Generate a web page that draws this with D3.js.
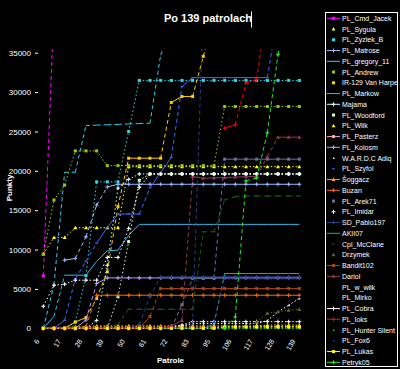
<!DOCTYPE html>
<html><head><meta charset="utf-8">
<script src="https://cdn.jsdelivr.net/npm/d3@7"></script>
<style>html,body{margin:0;padding:0;background:#000;}svg{display:block;}</style>
</head><body>
<svg id="c" width="400" height="369"></svg>
<script>
// ---- data ----
const categories = [6, 11, 17, 22, 28, 33, 39, 44, 50, 56, 61, 67, 72, 78, 83, 89, 95, 100, 106, 111, 117, 122, 128, 133, 139];
const yTickValues = [0, 5000, 10000, 15000, 20000, 25000, 30000, 35000];
const seriesNames = ["PL_Cmd_Jacek","PL_Sygula","PL_Zyzlek_B","PL_Matrose","PL_gregory_11","PL_Andrew","IR-129 Van Harpe","PL_Markow","Majama","PL_Woodford","PL_Wilk","PL_Pasterz","PL_Kolosm","W.A.R.D.C Adiq","PL_Szyfol","Šoggacz","Buzan","PL_Arek71","PL_Imidar","SD_Pablo197","AKII07","Cpl_McClane","Drzymek","Bandit102","Dariol","PL_w_wilk","PL_Mirko","PL_Cobra","PL_Ioks","PL_Hunter Silent","PL_Fox6","PL_Lukas","Petryk05"];
const N = null;
const cmdJacek = [6660,40700,N,N,N,N,N,N,N,N,N,N,N,N,N,N,N,N,N,N,N,N,N,N,N];
const sygula = [9420,11540,11540,12770,12770,12770,12770,12770,20530,20530,20530,20530,20530,20530,20530,20530,20530,20530,20530,20530,20530,20530,20530,20530,20530];
const zyzlek = [0,0,0,800,6700,18600,18600,18600,25000,31480,31480,31480,31480,31480,31480,31480,31480,31480,31480,31480,31480,31480,31480,31480,31480];
const matrose = [N,N,8660,8870,11620,15650,17950,18290,18290,18290,18290,18290,18290,18290,18290,18290,18290,18290,18290,18290,18290,18290,18290,18290,18290];
const gregory = [0,5500,19820,19820,25750,25800,25850,25900,25950,26000,26050,34700,38000,N,N,N,N,N,N,N,N,N,N,N,N];
const andrew = [9420,16290,18190,22530,22530,22530,20660,20660,20660,20660,20660,20660,20660,20660,20660,20660,20660,28170,28170,28170,28170,28170,28170,28170,28170];
const vanHarpe = [0,0,0,800,1360,3780,7170,15440,21600,21600,21600,21600,28680,29440,29440,34540,39000,N,N,N,N,N,N,N,N];
const markow = [0,1500,6750,6750,6750,8500,9840,9930,11800,13200,13200,13200,13200,13200,13200,13200,13200,13200,13200,13200,13200,13200,13200,13200,13200];
const majama = [0,0,0,0,0,1000,8000,17800,18900,19600,19600,19600,19600,19600,19600,19600,19600,19600,19600,19600,19600,19600,19600,19600,19600];
const woodford = [0,0,0,0,0,0,0,4000,11000,18800,19600,19600,19600,19600,19600,19600,19600,19600,19600,19600,19600,19600,19600,19600,19600];
const wilk = [0,0,100,200,200,300,300,300,300,300,300,300,300,300,300,300,300,300,300,300,300,400,400,400,400];
const pasterz = [0,0,0,0,0,0,0,0,0,0,0,0,100,100,100,100,100,100,200,200,200,200,200,200,200];
const kolosm = [0,0,0,0,1050,5680,6400,6400,6400,6400,6400,6400,6400,6400,6400,6400,6400,6400,6400,6400,6400,6400,6400,6400,6400];
const wardc = [0,0,0,0,0,0,0,0,0,0,0,0,0,300,600,600,600,600,600,600,600,1000,2080,2930,3780];
const szyfol = [0,0,1020,6300,8500,10820,12800,14510,14510,14510,17820,19800,21700,30700,31830,31830,31830,31830,31830,31830,31830,31830,40000,N,N];
const soggacz = [0,0,0,0,200,200,200,200,200,200,200,200,200,200,200,200,200,200,200,200,200,200,200,200,200];
const buzan = [0,0,0,0,200,4200,4200,4200,4200,4200,4200,4200,4200,4200,4200,4200,4200,4200,4200,4200,4200,4200,4200,4200,4200];
const arek71 = [0,0,0,0,0,0,0,0,0,0,0,0,0,3000,6330,6330,6330,21480,21480,21480,21480,21480,21480,21480,21480];
const imidar = [0,0,0,0,0,0,0,0,0,0,0,0,200,400,840,840,840,840,840,840,840,840,840,840,840];
const sdPablo = [0,0,0,0,0,0,0,0,0,500,4000,6530,6530,6530,6530,6530,6530,6530,6530,6530,6530,6530,6530,6530,6530];
const akii07 = [0,0,0,0,0,0,0,0,0,0,0,0,0,0,0,0,500,6960,6960,6960,6960,6960,6960,6960,6960];
const cplMcClane = [0,0,0,0,0,0,0,500,2420,2420,2420,2420,2420,2420,2420,12260,12260,16300,16700,16800,16800,16800,16800,16800,16800];
const drzymek = [0,0,0,0,0,0,0,0,0,0,0,0,0,0,0,0,0,0,0,300,800,1900,2100,2300,2400];
const bandit = [0,0,0,0,0,0,0,0,0,0,1500,5050,5050,5050,5050,5050,5050,5050,5050,5050,5050,5050,5050,5050,5050];
const dariol = [0,0,0,0,0,0,0,0,0,0,0,0,300,1000,19270,19060,19100,19150,19200,19250,19270,21800,24270,24270,24270];
const wWilk = [0,0,0,0,0,0,0,0,0,0,0,0,0,0,0,0,0,0,0,0,0,0,0,0,0];
const mirko = [0,0,0,0,0,0,0,0,0,0,0,0,0,0,500,41000,N,N,N,N,N,N,N,N,N];
const cobra = [2800,5470,5600,6110,6110,6110,9000,9000,12690,17900,19600,19600,19600,19600,19600,19600,19600,19600,19600,19600,19600,19600,19600,19600,19600];
const ioks = [0,0,0,0,0,0,0,0,0,0,0,100,170,N,N,N,N,25420,25840,31140,31600,41000,N,N,N];
const hunter = [0,0,0,0,0,0,0,0,0,0,0,0,0,0,0,0,0,0,0,0,0,0,0,0,0];
const fox6 = [0,0,0,0,0,0,0,0,0,0,0,0,0,0,0,0,800,6240,6240,6240,6240,6240,6240,6240,6240];
const lukas = [0,0,0,0,0,0,0,0,0,0,0,0,0,0,0,0,0,170,170,170,170,170,170,170,170];
const petryk = [N,N,N,N,N,N,N,N,N,N,N,N,N,N,N,N,N,0,1440,18730,19090,24820,34750,40000,N];
const seriesValues = [cmdJacek,sygula,zyzlek,matrose,gregory,andrew,vanHarpe,markow,majama,woodford,wilk,pasterz,kolosm,wardc,szyfol,soggacz,buzan,arek71,imidar,sdPablo,akii07,cplMcClane,drzymek,bandit,dariol,wWilk,mirko,cobra,ioks,hunter,fox6,lukas,petryk];

// ---- styles ----
const seriesColors = ["#ff00ff","#ffff00","#22e0ee","#99bbff","#33ccee","#99cc00","#ffcc00","#33bbee","#ccffff","#ccffcc","#ffee00","#ff99cc","#bb99ff","#ffffff","#4466ff","#ff9900","#ff6600","#6f6f99","#ffffff","#224488","#33aa66","#1e5a1e","#666622","#aa4411","#993366","#444444","#333388","#ffffff","#ff0000","#00ee00","#2233dd","#ffff00","#22ee22"];
const seriesMarkers = ["square","triangle","square","plus","none","square","square","none","plus","square","triangle","square","plus","dot","dash","triangle","plus","square","plus","plus","none","dash","triangle","square","triangle","none","none","plus","plus","dot","dot","square","plus"];
// 0 = solid, 1 = dotted, 2 = dashed (for flat parts; steep parts always look dashed)
const seriesDash = [0,1,1,0,2,1,0,0,1,1,1,1,0,1,0,1,0,0,1,0,0,2,1,0,0,1,2,1,0,1,1,1,2];
const legendLine = [1,0,0,1,1,0,0,1,1,0,0,1,1,0,0,1,1,0,0,1,1,0,0,1,1,0,0,1,1,0,0,1,1];
const dashPatterns = [null, "1.5,2", "4,3"];
const steepDash = "4,3";
const steepDot = "1.5,2.5";

const svg = d3.select("#c");
svg.append("rect").attr("width",400).attr("height",369).attr("fill","#000");
const FONT = "'Liberation Sans', Arial, sans-serif";

const x = d3.scalePoint().domain(d3.range(categories.length)).range([43.3, 299.3]);
const y = d3.scaleLinear().domain([0, 35000]).range([328.3, 52.7]);

svg.append("defs").append("clipPath").attr("id","clip")
  .append("rect").attr("x",30).attr("y",49).attr("width",280).attr("height",290);

// y axis
const yAxis = svg.append("g").attr("transform","translate(38,0)")
  .call(d3.axisLeft(y).tickValues(yTickValues).tickSize(3).tickPadding(4).tickFormat(d3.format("d")));
yAxis.select(".domain").remove();
yAxis.selectAll(".tick line").attr("stroke","#fff").attr("stroke-width",1);
yAxis.selectAll(".tick").filter(d => d === 0).select("line").remove();
yAxis.selectAll("text").attr("fill","#fff").style("font-family",FONT).style("font-size","8px");

// x axis
const xAxis = svg.append("g").attr("transform","translate(0,335)")
  .call(d3.axisBottom(x).tickValues(d3.range(0, categories.length, 2)).tickSize(0).tickFormat(i => categories[i]));
xAxis.select(".domain").remove();
xAxis.selectAll("text").attr("fill","#fff").style("font-family",FONT).style("font-size","7px")
  .attr("text-anchor","end").attr("dy",0).attr("y",0)
  .attr("transform","translate(-4,6) rotate(-60)");

// titles
svg.append("text").attr("x",208).attr("y",21.5).attr("text-anchor","middle").attr("fill","#fff")
  .style("font-family",FONT).style("font-size","11px").style("font-weight","bold").text("Po 139 patrolach");
svg.append("line").attr("x1",251.5).attr("x2",251.5).attr("y1",11.5).attr("y2",27.5).attr("stroke","#fff");
svg.append("text").attr("transform","translate(11.5,188) rotate(-90)").attr("text-anchor","middle").attr("fill","#fff")
  .style("font-family",FONT).style("font-size","8px").style("font-weight","bold").text("Punkty");
svg.append("text").attr("x",170.5).attr("y",363).attr("text-anchor","middle").attr("fill","#fff")
  .style("font-family",FONT).style("font-size","8px").style("font-weight","bold").text("Patrole");

function drawMarker(g, type, color, cx, cy) {
  if (type === "square") g.append("rect").attr("x",cx-1.5).attr("y",cy-1.5).attr("width",3).attr("height",3).attr("fill",color);
  else if (type === "plus") g.append("path").attr("d",`M${cx-2},${cy}H${cx+2}M${cx},${cy-2}V${cy+2}`).attr("stroke",color).attr("stroke-width",1);
  else if (type === "triangle") g.append("path").attr("d",`M${cx},${cy-2}L${cx+2},${cy+1.5}L${cx-2},${cy+1.5}Z`).attr("fill",color);
  else if (type === "dot") g.append("rect").attr("x",cx-0.5).attr("y",cy-0.5).attr("width",1.5).attr("height",1.5).attr("fill",color);
  else if (type === "dash") g.append("path").attr("d",`M${cx-1.5},${cy}H${cx+1.5}`).attr("stroke",color).attr("stroke-width",1);
}

const plot = svg.append("g").attr("clip-path","url(#clip)");
const line = d3.line().x(d => x(d[0])).y(d => y(d[1]));
seriesValues.forEach((vals, si) => {
  const pts = vals.map((v, i) => [i, v]);
  const g = plot.append("g");
  for (let i = 1; i < pts.length; i++) {
    const a = pts[i-1], b = pts[i];
    if (a[1] === null || b[1] === null) continue;
    const dx = x(b[0]) - x(a[0]), dy = Math.abs(y(b[1]) - y(a[1]));
    let dash = dashPatterns[seriesDash[si]];
    if (dy > dx * 1.5) dash = seriesDash[si] === 1 ? steepDot : steepDash;
    g.append("path").attr("d", line([a, b])).attr("fill","none")
      .attr("stroke", seriesColors[si]).attr("stroke-width",1).attr("stroke-dasharray", dash);
  }
  pts.forEach(p => { if (p[1] !== null) drawMarker(g, seriesMarkers[si], seriesColors[si], x(p[0]), y(p[1])); });
});

const lg = svg.append("g");
lg.append("rect").attr("x",325.5).attr("y",12.5).attr("width",72).attr("height",354).attr("fill","#000").attr("stroke","#fff");
seriesNames.forEach((name, i) => {
  const ly = 18.3 + i * 10.75;
  if (legendLine[i]) lg.append("line").attr("x1",327).attr("x2",340).attr("y1",ly).attr("y2",ly).attr("stroke",seriesColors[i]);
  drawMarker(lg, seriesMarkers[i], seriesColors[i], 333.5, ly);
  lg.append("text").attr("x",342).attr("y",ly).attr("dy","0.35em").attr("fill","#fff")
    .style("font-family",FONT).style("font-size","7px").text(name);
});
</script>
</body></html>
